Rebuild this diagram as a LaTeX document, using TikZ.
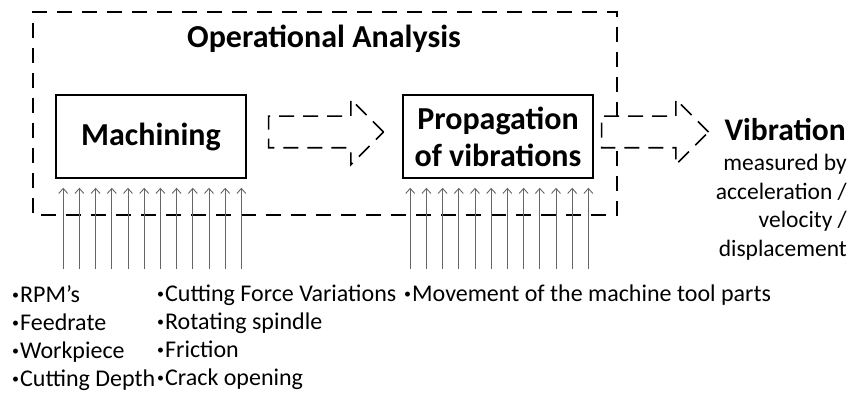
\documentclass[tikz,border=0pt]{standalone}
\usepackage{fontspec}
\setmainfont{Carlito}
\usetikzlibrary{arrows.meta,shapes.arrows,positioning}
\newcommand{\srcdot}{{\fontsize{14}{14}\selectfont\raisebox{3pt}{•}}\kern1pt}

\begin{document}
\begin{tikzpicture}[x=1pt, y=-1pt,
            every node/.style = {inner sep=0pt},
            procbox/.style = {draw, line width=1.6pt, minimum width=190pt,
                                minimum height=83pt, align=center,
                                font=\fontsize{32}{37}\selectfont\bfseries},
            flowarrow/.style = {single arrow, draw, line width=1.6pt,
                                dash pattern=on 15pt off 9pt, inner xsep=0pt,
                                inner ysep=15pt, single arrow head extend=17pt,
                                anchor=tail},
            inarrow/.style = {draw=black!60, line width=0.9pt,
                                -{Straight Barb[length=5pt,width=9pt]}},
            note/.style = {anchor=north west, align=left,
                                font=\fontsize{24}{28}\selectfont}]
            \useasboundingbox (0,0) rectangle (861,398);
            % operational analysis frame
            \draw[line width=1.6pt, dash pattern=on 15pt off 10pt]
                (617,117) -- (617,12) -- (33,12) -- (33,215) -- (617,215) -- (617,150);
            \node[anchor=base, font=\fontsize{32}{37}\selectfont\bfseries] (title) at (324,48) {Operational Analysis};
            % the two stages
            \node[procbox] (mach) at (151,136.5) {Machining};
            \node[procbox] (prop) at (498,136.5) {Propagation\\of vibrations};
            \node[flowarrow, minimum height=115pt] (flow1) at ([xshift=21pt, yshift=4.5pt]mach.east) {};
            \node[flowarrow, minimum height=107pt] (flow2) at ([xshift=7pt, yshift=4.5pt]prop.east) {};
            \node[anchor=east, font=\fontsize{31.5}{37}\selectfont\bfseries] (vib) at (846,130) {Vibration};
            \node[anchor=north east, align=right, font=\fontsize{23.5}{28.5}\selectfont] (vibnote) at (847,154)
                {measured by\\acceleration /\\velocity /\\displacement};
            % input arrows
            \foreach \i in {0,...,11} {
                \draw[inarrow] ([xshift=8pt+\i*16.2pt, yshift=-90pt]mach.south west) -- ([xshift=8pt+\i*16.2pt, yshift=-9pt]mach.south west);
                \draw[inarrow] ([xshift=8pt+\i*16.2pt, yshift=-90pt]prop.south west) -- ([xshift=8pt+\i*16.2pt, yshift=-9pt]prop.south west);
            }
            % sources of vibration
            \node[note] (src1) at (12,285) {\srcdot RPM’s\\\srcdot Feedrate\\\srcdot Workpiece\\\srcdot Cutting Depth};
            \node[note] (src2) at (157,285) {\srcdot Cutting Force Variations\\\srcdot Rotating spindle\\\srcdot Friction\\\srcdot Crack opening};
            \node[note] (src3) at (404,285) {\srcdot Movement of the machine tool parts};
        \end{tikzpicture}
\end{document}
